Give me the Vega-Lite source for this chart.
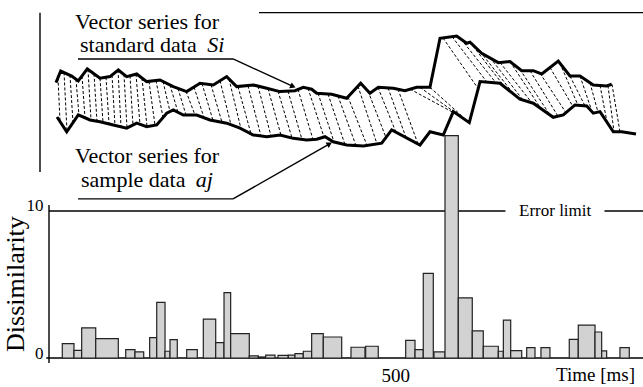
{
  "$schema": "https://vega.github.io/schema/vega-lite/v6.json",
  "autosize": "none",
  "width": 594,
  "height": 358,
  "padding": {"left": 49, "top": 0, "right": 0, "bottom": 29},
  "background": "white",
  "config": {"font": "Liberation Serif", "view": {"stroke": null}},
  "datasets": {
    "bars": [
      {"t0": 19.2, "t1": 36.1, "v": 0.98}, {"t0": 36.1, "t1": 47.2, "v": 0.52}, {"t0": 47.2, "t1": 67.5, "v": 2.05},
      {"t0": 67.5, "t1": 100.1, "v": 1.32}, {"t0": 110.8, "t1": 124.2, "v": 0.57}, {"t0": 124.2, "t1": 136.8, "v": 0.41},
      {"t0": 145.4, "t1": 155.6, "v": 1.39}, {"t0": 155.6, "t1": 167.6, "v": 3.78}, {"t0": 167.6, "t1": 174.8, "v": 0.46},
      {"t0": 174.8, "t1": 185.3, "v": 1.25}, {"t0": 198.9, "t1": 214.2, "v": 0.57}, {"t0": 222.9, "t1": 240.8, "v": 2.64},
      {"t0": 240.8, "t1": 252.8, "v": 1.05}, {"t0": 252.8, "t1": 262.4, "v": 4.45}, {"t0": 262.4, "t1": 289.3, "v": 1.66},
      {"t0": 289.3, "t1": 302.3, "v": 0.14}, {"t0": 302.3, "t1": 313.0, "v": 0.07}, {"t0": 313.0, "t1": 326.4, "v": 0.2},
      {"t0": 330.8, "t1": 345.6, "v": 0.18}, {"t0": 345.6, "t1": 355.3, "v": 0.2}, {"t0": 355.3, "t1": 367.3, "v": 0.3},
      {"t0": 367.3, "t1": 379.4, "v": 0.46}, {"t0": 379.4, "t1": 396.2, "v": 1.66}, {"t0": 396.2, "t1": 422.8, "v": 1.43},
      {"t0": 436.2, "t1": 456.4, "v": 0.73}, {"t0": 457.4, "t1": 475.6, "v": 0.8}, {"t0": 515.2, "t1": 528.7, "v": 1.2},
      {"t0": 528.7, "t1": 540.6, "v": 0.57}, {"t0": 540.6, "t1": 555.1, "v": 5.75}, {"t0": 556.1, "t1": 572.0, "v": 0.41},
      {"t0": 572.0, "t1": 591.2, "v": 15.13}, {"t0": 591.2, "t1": 611.4, "v": 4.09}, {"t0": 611.4, "t1": 627.3, "v": 1.84},
      {"t0": 627.3, "t1": 649.0, "v": 0.8}, {"t0": 649.0, "t1": 656.3, "v": 0.46}, {"t0": 656.3, "t1": 666.9, "v": 2.57},
      {"t0": 666.9, "t1": 682.8, "v": 0.5}, {"t0": 690.0, "t1": 702.0, "v": 0.71}, {"t0": 710.6, "t1": 723.6, "v": 0.71},
      {"t0": 751.5, "t1": 764.5, "v": 1.27}, {"t0": 764.5, "t1": 788.7, "v": 2.23}, {"t0": 788.7, "t1": 798.3, "v": 1.77},
      {"t0": 798.3, "t1": 805.5, "v": 0.48}, {"t0": 824.7, "t1": 838.2, "v": 0.71}
    ],
    "series": [
      {"s": "Si", "t": 10.1, "v": 18.73}, {"s": "Si", "t": 16.9, "v": 19.52}, {"s": "Si", "t": 32.8, "v": 19.18}, {"s": "Si", "t": 42.3, "v": 18.84},
      {"s": "Si", "t": 55.3, "v": 19.66}, {"s": "Si", "t": 73.7, "v": 19.03}, {"s": "Si", "t": 88.1, "v": 19.14}, {"s": "Si", "t": 100.1, "v": 19.59},
      {"s": "Si", "t": 112.2, "v": 19.14}, {"s": "Si", "t": 126.7, "v": 19.32}, {"s": "Si", "t": 141.1, "v": 18.8}, {"s": "Si", "t": 160.3, "v": 18.91},
      {"s": "Si", "t": 179.5, "v": 18.46}, {"s": "Si", "t": 198.9, "v": 18.12}, {"s": "Si", "t": 218.1, "v": 18.69}, {"s": "Si", "t": 237.3, "v": 18.57},
      {"s": "Si", "t": 256.7, "v": 19.14}, {"s": "Si", "t": 271.1, "v": 18.46}, {"s": "Si", "t": 295.1, "v": 18.57}, {"s": "Si", "t": 314.5, "v": 18.35},
      {"s": "Si", "t": 333.7, "v": 18.12}, {"s": "Si", "t": 355.3, "v": 18.18}, {"s": "Si", "t": 367.3, "v": 18.41}, {"s": "Si", "t": 379.4, "v": 18.28},
      {"s": "Si", "t": 386.7, "v": 18.01}, {"s": "Si", "t": 408.3, "v": 17.94}, {"s": "Si", "t": 430.0, "v": 17.67}, {"s": "Si", "t": 450.2, "v": 18.69},
      {"s": "Si", "t": 463.6, "v": 18.01}, {"s": "Si", "t": 475.6, "v": 18.41}, {"s": "Si", "t": 497.3, "v": 18.35}, {"s": "Si", "t": 514.2, "v": 18.18},
      {"s": "Si", "t": 531.1, "v": 18.41}, {"s": "Si", "t": 550.3, "v": 18.41}, {"s": "Si", "t": 564.8, "v": 21.75}, {"s": "Si", "t": 588.9, "v": 21.9},
      {"s": "Si", "t": 603.3, "v": 21.41}, {"s": "Si", "t": 608.1, "v": 21.48}, {"s": "Si", "t": 625.0, "v": 20.73}, {"s": "Si", "t": 649.0, "v": 20.09},
      {"s": "Si", "t": 665.9, "v": 20.16}, {"s": "Si", "t": 682.8, "v": 19.54}, {"s": "Si", "t": 699.5, "v": 19.54}, {"s": "Si", "t": 711.7, "v": 19.32},
      {"s": "Si", "t": 735.6, "v": 20.2}, {"s": "Si", "t": 752.5, "v": 19.18}, {"s": "Si", "t": 767.0, "v": 19.18}, {"s": "Si", "t": 786.2, "v": 18.57},
      {"s": "Si", "t": 805.5, "v": 18.5}, {"s": "Si", "t": 812.8, "v": 18.62},
      {"s": "aj", "t": 11.6, "v": 16.39}, {"s": "aj", "t": 25.6, "v": 15.39}, {"s": "aj", "t": 42.3, "v": 16.53}, {"s": "aj", "t": 59.2, "v": 16.19},
      {"s": "aj", "t": 73.7, "v": 16.07}, {"s": "aj", "t": 92.9, "v": 15.85}, {"s": "aj", "t": 112.2, "v": 15.63}, {"s": "aj", "t": 126.7, "v": 15.97},
      {"s": "aj", "t": 141.1, "v": 15.73}, {"s": "aj", "t": 155.6, "v": 15.85}, {"s": "aj", "t": 170.0, "v": 16.65}, {"s": "aj", "t": 179.5, "v": 16.87},
      {"s": "aj", "t": 194.0, "v": 16.53}, {"s": "aj", "t": 213.3, "v": 16.53}, {"s": "aj", "t": 232.6, "v": 16.19}, {"s": "aj", "t": 256.7, "v": 15.97},
      {"s": "aj", "t": 275.9, "v": 15.63}, {"s": "aj", "t": 295.1, "v": 15.17}, {"s": "aj", "t": 314.5, "v": 15.05}, {"s": "aj", "t": 333.7, "v": 15.17},
      {"s": "aj", "t": 352.9, "v": 14.94}, {"s": "aj", "t": 372.2, "v": 14.83}, {"s": "aj", "t": 386.7, "v": 14.88}, {"s": "aj", "t": 398.7, "v": 15.05},
      {"s": "aj", "t": 410.6, "v": 14.71}, {"s": "aj", "t": 430.0, "v": 14.49}, {"s": "aj", "t": 454.0, "v": 14.42}, {"s": "aj", "t": 480.6, "v": 14.61},
      {"s": "aj", "t": 495.0, "v": 15.51}, {"s": "aj", "t": 535.9, "v": 14.49}, {"s": "aj", "t": 550.3, "v": 15.39}, {"s": "aj", "t": 569.5, "v": 15.17},
      {"s": "aj", "t": 584.0, "v": 16.76}, {"s": "aj", "t": 607.1, "v": 16.01}, {"s": "aj", "t": 622.6, "v": 18.8}, {"s": "aj", "t": 651.4, "v": 18.69},
      {"s": "aj", "t": 680.3, "v": 17.6}, {"s": "aj", "t": 699.5, "v": 17.33}, {"s": "aj", "t": 728.4, "v": 16.37}, {"s": "aj", "t": 742.9, "v": 16.53},
      {"s": "aj", "t": 759.8, "v": 17.21}, {"s": "aj", "t": 776.7, "v": 17.14}, {"s": "aj", "t": 786.2, "v": 16.65}, {"s": "aj", "t": 795.9, "v": 16.76},
      {"s": "aj", "t": 815.1, "v": 15.39}, {"s": "aj", "t": 827.2, "v": 15.39}, {"s": "aj", "t": 847.9, "v": 15.24}
    ],
    "dashes": [
      {"tu": 13.0, "vu": 19.07, "tl": 15.9, "vl": 16.09}, {"tu": 21.7, "vu": 19.42, "tl": 26.0, "vl": 15.42},
      {"tu": 30.3, "vu": 19.24, "tl": 34.7, "vl": 16.01}, {"tu": 39.0, "vu": 18.96, "tl": 43.3, "vl": 16.51},
      {"tu": 47.7, "vu": 19.18, "tl": 52.0, "vl": 16.33}, {"tu": 56.3, "vu": 19.63, "tl": 60.7, "vl": 16.18},
      {"tu": 65.0, "vu": 19.33, "tl": 69.3, "vl": 16.11}, {"tu": 73.7, "vu": 19.03, "tl": 78.0, "vl": 16.03},
      {"tu": 82.3, "vu": 19.1, "tl": 86.7, "vl": 15.93}, {"tu": 91.0, "vu": 19.24, "tl": 95.3, "vl": 15.82},
      {"tu": 99.7, "vu": 19.58, "tl": 104.0, "vl": 15.72}, {"tu": 108.3, "vu": 19.29, "tl": 112.7, "vl": 15.63},
      {"tu": 117.0, "vu": 19.2, "tl": 121.3, "vl": 15.84}, {"tu": 125.7, "vu": 19.31, "tl": 131.4, "vl": 15.89},
      {"tu": 134.3, "vu": 19.04, "tl": 141.6, "vl": 15.74}, {"tu": 144.4, "vu": 18.82, "tl": 153.1, "vl": 15.83},
      {"tu": 154.6, "vu": 18.87, "tl": 164.7, "vl": 16.35}, {"tu": 164.7, "vu": 18.81, "tl": 174.8, "vl": 16.76},
      {"tu": 174.8, "vu": 18.57, "tl": 186.3, "vl": 16.71}, {"tu": 186.3, "vu": 18.33, "tl": 197.9, "vl": 16.53},
      {"tu": 197.9, "vu": 18.14, "tl": 210.9, "vl": 16.53}, {"tu": 209.4, "vu": 18.43, "tl": 223.9, "vl": 16.35},
      {"tu": 221.0, "vu": 18.67, "tl": 236.9, "vl": 16.15}, {"tu": 234.0, "vu": 18.59, "tl": 249.9, "vl": 16.03},
      {"tu": 247.0, "vu": 18.86, "tl": 262.9, "vl": 15.86}, {"tu": 260.0, "vu": 18.98, "tl": 277.3, "vl": 15.59},
      {"tu": 273.0, "vu": 18.46, "tl": 291.8, "vl": 15.25}, {"tu": 287.4, "vu": 18.52, "tl": 306.2, "vl": 15.1},
      {"tu": 301.9, "vu": 18.49, "tl": 320.7, "vl": 15.09}, {"tu": 316.3, "vu": 18.33, "tl": 335.1, "vl": 15.16},
      {"tu": 330.8, "vu": 18.15, "tl": 351.0, "vl": 14.97}, {"tu": 345.2, "vu": 18.15, "tl": 365.4, "vl": 14.87},
      {"tu": 359.7, "vu": 18.27, "tl": 381.3, "vl": 14.86}, {"tu": 374.1, "vu": 18.34, "tl": 397.2, "vl": 15.03},
      {"tu": 388.6, "vu": 18.0, "tl": 411.7, "vl": 14.7}, {"tu": 403.0, "vu": 17.95, "tl": 427.5, "vl": 14.52},
      {"tu": 417.4, "vu": 17.82, "tl": 443.4, "vl": 14.45}, {"tu": 431.9, "vu": 17.76, "tl": 459.3, "vl": 14.46},
      {"tu": 446.3, "vu": 18.49, "tl": 473.8, "vl": 14.56}, {"tu": 460.8, "vu": 18.16, "tl": 486.8, "vl": 14.99},
      {"tu": 475.2, "vu": 18.4, "tl": 501.2, "vl": 15.35}, {"tu": 489.7, "vu": 18.37, "tl": 515.7, "vl": 14.99},
      {"tu": 504.1, "vu": 18.28, "tl": 533.0, "vl": 14.56}, {"tu": 521.4, "vu": 18.29, "tl": 583.6, "vl": 16.71},
      {"tu": 535.9, "vu": 18.41, "tl": 596.6, "vl": 16.35}, {"tu": 550.3, "vu": 18.41, "tl": 606.7, "vl": 16.02},
      {"tu": 569.1, "vu": 21.77, "tl": 620.7, "vl": 18.27}, {"tu": 582.1, "vu": 21.86, "tl": 632.7, "vl": 18.76},
      {"tu": 595.1, "vu": 21.69, "tl": 645.7, "vl": 18.71}, {"tu": 608.1, "vu": 21.48, "tl": 658.7, "vl": 18.41},
      {"tu": 622.7, "vu": 20.84, "tl": 671.7, "vl": 17.93}, {"tu": 637.0, "vu": 20.44, "tl": 684.7, "vl": 17.54},
      {"tu": 651.4, "vu": 20.1, "tl": 697.6, "vl": 17.35}, {"tu": 665.9, "vu": 20.16, "tl": 710.6, "vl": 16.96},
      {"tu": 680.3, "vu": 19.63, "tl": 723.6, "vl": 16.53}, {"tu": 694.8, "vu": 19.54, "tl": 735.2, "vl": 16.45},
      {"tu": 709.2, "vu": 19.37, "tl": 746.7, "vl": 16.69}, {"tu": 723.6, "vu": 19.76, "tl": 756.9, "vl": 17.1},
      {"tu": 738.1, "vu": 20.05, "tl": 764.1, "vl": 17.19}, {"tu": 752.5, "vu": 19.18, "tl": 774.2, "vl": 17.15},
      {"tu": 767.0, "vu": 19.18, "tl": 782.9, "vl": 16.97}, {"tu": 781.4, "vu": 18.72, "tl": 793.0, "vl": 16.72},
      {"tu": 795.9, "vu": 18.54, "tl": 806.0, "vl": 16.05}, {"tu": 807.4, "vu": 18.53, "tl": 816.1, "vl": 15.39},
      {"tu": 813.2, "vu": 18.62, "tl": 824.7, "vl": 15.39}
    ],
    "rules": [
      {"t1": 303.3, "v1": 23.49, "t2": 858, "v2": 23.49},
      {"t1": -13, "v1": 23.49, "t2": -13, "v2": 12.65},
      {"t1": 0, "v1": 10.41, "t2": 0, "v2": -0.34},
      {"t1": -4, "v1": 0, "t2": 858, "v2": 0},
      {"t1": 0, "v1": 10, "t2": 659.3, "v2": 10},
      {"t1": 802.4, "v1": 10, "t2": 858, "v2": 10},
      {"t1": 41.9, "v1": 20.34, "t2": 265.8, "v2": 20.34},
      {"t1": 265.8, "v1": 20.34, "t2": 352.4, "v2": 18.47},
      {"t1": 41.9, "v1": 10.82, "t2": 265.8, "v2": 10.82},
      {"t1": 265.8, "v1": 10.82, "t2": 405.2, "v2": 14.56}
    ],
    "texts": [
      {"kind": "ann", "label": "Vector series for", "t": 37.6, "v": 22.41},
      {"kind": "ann", "label": "standard data", "t": 44.8, "v": 20.82},
      {"kind": "ann", "label": "Vector series for", "t": 37.6, "v": 13.24},
      {"kind": "ann", "label": "sample data", "t": 46.2, "v": 11.6},
      {"kind": "it", "label": "Si", "t": 228.5, "v": 20.82},
      {"kind": "it", "label": "aj", "t": 212.0, "v": 11.6},
      {"kind": "err", "label": "Error limit", "t": 678.9, "v": 9.66},
      {"kind": "time", "label": "Time [ms]", "t": 846.4, "v": -1.56},
      {"kind": "ytitle", "label": "Dissimilarity", "t": -47.7, "v": 5.03}
    ],
    "arrows": [
      {"id": "Si", "t": 352.4, "v": 18.47},
      {"id": "aj", "t": 405.2, "v": 14.56}
    ]
  },
  "layer": [
    {
      "data": {"name": "rules"},
      "mark": {"type": "rule", "color": "black", "strokeWidth": 1.4},
      "encoding": {
        "x": {"field": "t1", "type": "quantitative", "scale": {"domain": [0, 858], "nice": false, "zero": false},
              "axis": {"values": [500], "ticks": false, "domain": false, "grid": false, "labelFontSize": 19, "labelPadding": 8, "labelColor": "black", "title": null}},
        "x2": {"field": "t2"},
        "y": {"field": "v1", "type": "quantitative", "scale": {"domain": [0, 24.35], "nice": false, "zero": false},
              "axis": {"values": [0, 10], "ticks": false, "domain": false, "grid": false, "labelFontSize": 17, "labelPadding": 6, "labelBaseline": "alphabetic", "labelColor": "black", "title": null}},
        "y2": {"field": "v2"}
      }
    },
    {
      "data": {"name": "bars"},
      "mark": {"type": "rect", "fill": "#d2d2d2", "stroke": "#222", "strokeWidth": 1.2},
      "encoding": {
        "x": {"field": "t0", "type": "quantitative", "title": null},
        "x2": {"field": "t1"},
        "y": {"field": "v", "type": "quantitative", "title": null},
        "y2": {"datum": 0}
      }
    },
    {
      "data": {"name": "dashes"},
      "mark": {"type": "rule", "color": "black", "strokeWidth": 1, "strokeDash": [3, 2]},
      "encoding": {
        "x": {"field": "tu", "type": "quantitative", "title": null},
        "x2": {"field": "tl"},
        "y": {"field": "vu", "type": "quantitative", "title": null},
        "y2": {"field": "vl"}
      }
    },
    {
      "data": {"name": "series"},
      "mark": {"type": "line", "color": "black", "strokeWidth": 3, "strokeJoin": "miter"},
      "encoding": {
        "x": {"field": "t", "type": "quantitative", "title": null},
        "y": {"field": "v", "type": "quantitative", "title": null},
        "detail": {"field": "s"}
      }
    },
    {
      "data": {"name": "arrows"},
      "transform": [{"filter": "datum.id == 'Si'"}],
      "mark": {"type": "point", "shape": "triangle-right", "filled": true, "color": "black", "size": 40, "angle": 24, "opacity": 1},
      "encoding": {
        "x": {"field": "t", "type": "quantitative", "title": null},
        "y": {"field": "v", "type": "quantitative", "title": null}
      }
    },
    {
      "data": {"name": "arrows"},
      "transform": [{"filter": "datum.id == 'aj'"}],
      "mark": {"type": "point", "shape": "triangle-right", "filled": true, "color": "black", "size": 40, "angle": 330, "opacity": 1},
      "encoding": {
        "x": {"field": "t", "type": "quantitative", "title": null},
        "y": {"field": "v", "type": "quantitative", "title": null}
      }
    },
    {
      "data": {"name": "texts"},
      "transform": [{"filter": "datum.kind == 'ann'"}],
      "mark": {"type": "text", "align": "left", "baseline": "alphabetic", "fontSize": 22, "color": "black"},
      "encoding": {
        "x": {"field": "t", "type": "quantitative", "title": null},
        "y": {"field": "v", "type": "quantitative", "title": null},
        "text": {"field": "label"}
      }
    },
    {
      "data": {"name": "texts"},
      "transform": [{"filter": "datum.kind == 'it'"}],
      "mark": {"type": "text", "align": "left", "baseline": "alphabetic", "fontSize": 22, "fontStyle": "italic", "color": "black"},
      "encoding": {
        "x": {"field": "t", "type": "quantitative", "title": null},
        "y": {"field": "v", "type": "quantitative", "title": null},
        "text": {"field": "label"}
      }
    },
    {
      "data": {"name": "texts"},
      "transform": [{"filter": "datum.kind == 'err'"}],
      "mark": {"type": "text", "align": "left", "baseline": "alphabetic", "fontSize": 17, "color": "black"},
      "encoding": {
        "x": {"field": "t", "type": "quantitative", "title": null},
        "y": {"field": "v", "type": "quantitative", "title": null},
        "text": {"field": "label"}
      }
    },
    {
      "data": {"name": "texts"},
      "transform": [{"filter": "datum.kind == 'time'"}],
      "mark": {"type": "text", "align": "right", "baseline": "alphabetic", "fontSize": 19, "color": "black"},
      "encoding": {
        "x": {"field": "t", "type": "quantitative", "title": null},
        "y": {"field": "v", "type": "quantitative", "title": null},
        "text": {"field": "label"}
      }
    },
    {
      "data": {"name": "texts"},
      "transform": [{"filter": "datum.kind == 'ytitle'"}],
      "mark": {"type": "text", "align": "center", "baseline": "middle", "fontSize": 26, "angle": 270, "color": "black"},
      "encoding": {
        "x": {"field": "t", "type": "quantitative", "title": null},
        "y": {"field": "v", "type": "quantitative", "title": null},
        "text": {"field": "label"}
      }
    }
  ]
}
